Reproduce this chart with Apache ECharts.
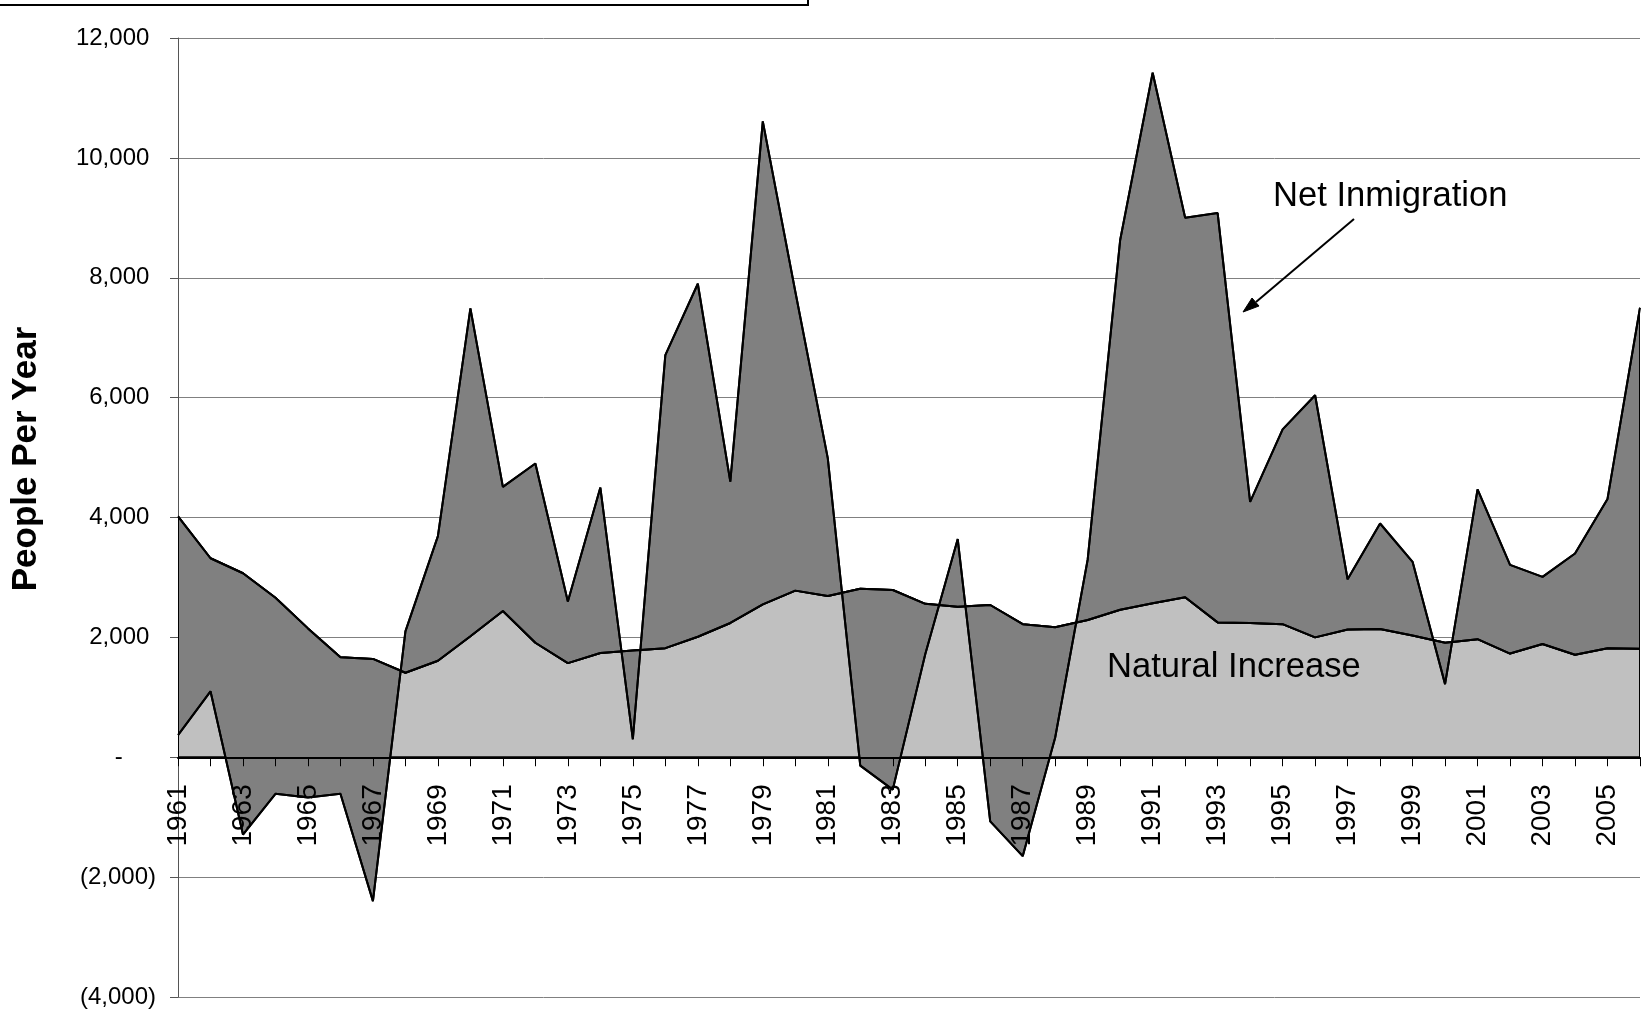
<!DOCTYPE html>
<html>
<head>
<meta charset="utf-8">
<title>People Per Year</title>
<script src="https://cdn.jsdelivr.net/npm/echarts@6.0.0/dist/echarts.min.js"></script>
<style>
  html, body { margin: 0; padding: 0; background: #fff; }
  #chart { width: 1643px; height: 1012px; }
</style>
</head>
<body>
<div id="chart"></div>
<script>
// years on the category axis
var years = [
  '1961', '1962', '1963', '1964', '1965', '1966', '1967', '1968', '1969', '1970',
  '1971', '1972', '1973', '1974', '1975', '1976', '1977', '1978', '1979', '1980',
  '1981', '1982', '1983', '1984', '1985', '1986', '1987', '1988', '1989', '1990',
  '1991', '1992', '1993', '1994', '1995', '1996', '1997', '1998', '1999', '2000',
  '2001', '2002', '2003', '2004', '2005', '2006'
];

// births minus deaths, people per year
var naturalIncrease = [
  4020, 3320, 3070, 2660, 2150, 1670, 1640, 1410, 1610, 2020,
  2440, 1910, 1570, 1740, 1780, 1820, 2010, 2240, 2550, 2780,
  2690, 2810, 2790, 2560, 2510, 2540, 2220, 2170, 2290, 2460,
  2570, 2670, 2250, 2240, 2220, 2000, 2130, 2140, 2030, 1910,
  1970, 1730, 1890, 1710, 1820, 1810
];

// net migration, people per year
var netInmigration = [
  370, 1100, -1290, -610, -670, -610, -2400, 2100, 3690, 7490,
  4510, 4900, 2600, 4500, 300, 6710, 7900, 4600, 10610, 7770,
  4990, -140, -540, 1720, 3640, -1070, -1650, 330, 3300, 8630,
  11420, 9000, 9080, 4260, 5470, 6040, 2970, 3900, 3260, 1220,
  4470, 3210, 3010, 3400, 4310, 7500
];

// y axis ticks
var yMin = -4000;
var yMax = 12000;
var yStep = 2000;

var FONT = "'Liberation Sans', Arial, sans-serif";

// plot box in pixels
var gridTop = 38;
var gridBottom = 15;
var gridHeight = 1012 - gridTop - gridBottom;
// distance of the zero line above the bottom of the plot
var zeroOffset = gridHeight * (0 - yMin) / (yMax - yMin);

// excel accounting style: 12,000 / - / (2,000)
function formatPeople(v) {
  if (v === 0) return '-     ';
  var s = Math.abs(v).toLocaleString('en-US');
  return v < 0 ? '(' + s + ')' : s + ' ';
}

var myChart = echarts.init(document.getElementById('chart'));

// light fill: from zero up to the natural increase line
function renderNaturalFill(params, api) {
  if (params.dataIndex !== 0) return null;
  var pts = [];
  for (var i = 0; i < years.length; i++) {
    pts.push(api.coord([i, naturalIncrease[i]]));
  }
  pts.push(api.coord([years.length - 1, 0]));
  pts.push(api.coord([0, 0]));
  return {
    type: 'polygon',
    shape: { points: pts },
    style: { fill: '#c0c0c0', stroke: '#000', lineWidth: 2, lineJoin: 'bevel' }
  };
}

// dark fill: the band between the two lines
function renderNetFill(params, api) {
  if (params.dataIndex !== 0) return null;
  var upper = [];
  var lower = [];
  for (var i = 0; i < years.length; i++) {
    upper.push(api.coord([i, netInmigration[i]]));
    lower.push(api.coord([i, naturalIncrease[i]]));
  }
  return {
    type: 'polygon',
    shape: { points: upper.concat(lower.reverse()) },
    style: { fill: '#808080', stroke: '#000', lineWidth: 2, lineJoin: 'bevel' }
  };
}

var option = {
  backgroundColor: '#fff',
  animation: false,
  textStyle: { fontFamily: FONT },
  grid: {
    left: 178,
    right: 3,
    top: gridTop,
    bottom: gridBottom,
    containLabel: false,
    outerBoundsMode: 'none'
  },
  xAxis: {
    type: 'category',
    data: years,
    boundaryGap: false,
    position: 'bottom',
    // sit on the zero line, labels hanging below it
    offset: -zeroOffset,
    z: 10,
    axisLine: { onZero: false, lineStyle: { color: '#000', width: 2 } },
    axisTick: { show: true, interval: 0, length: 9, lineStyle: { color: '#000', width: 1 } },
    axisLabel: {
      interval: 1,
      rotate: 90,
      margin: 27,
      color: '#000',
      fontSize: 28,
      fontFamily: FONT
    },
    splitLine: { show: false }
  },
  yAxis: {
    type: 'value',
    min: yMin,
    max: yMax,
    interval: yStep,
    axisLine: { show: true, lineStyle: { color: '#555', width: 1 } },
    axisTick: { show: true, length: 8, lineStyle: { color: '#555' } },
    axisLabel: {
      formatter: formatPeople,
      margin: 22,
      color: '#000',
      fontSize: 24,
      fontFamily: FONT
    },
    splitLine: { show: true, lineStyle: { color: '#808080', width: 1 } }
  },
  series: [
    {
      name: 'Natural Increase fill',
      type: 'custom',
      renderItem: renderNaturalFill,
      data: years.map(function (y, i) { return [i, naturalIncrease[i]]; }),
      encode: { x: 0, y: 1 },
      clip: true,
      silent: true,
      z: 2
    },
    {
      name: 'Net Inmigration fill',
      type: 'custom',
      renderItem: renderNetFill,
      data: years.map(function (y, i) { return [i, netInmigration[i]]; }),
      encode: { x: 0, y: 1 },
      clip: true,
      silent: true,
      z: 3
    },
    {
      name: 'Natural Increase',
      type: 'line',
      data: naturalIncrease,
      symbol: 'none',
      lineStyle: { color: '#000', width: 2 },
      z: 4
    },
    {
      name: 'Net Inmigration',
      type: 'line',
      data: netInmigration,
      symbol: 'none',
      lineStyle: { color: '#000', width: 2 },
      z: 4
    }
  ],
  graphic: [
    // edge of the title box that sits above the chart
    {
      type: 'rect',
      shape: { x: -5, y: -5, width: 813, height: 10 },
      style: { fill: '#fff', stroke: '#000', lineWidth: 2 },
      z: 20
    },
    // value axis title
    {
      type: 'text',
      x: 26,
      y: 459,
      rotation: Math.PI / 2,
      style: { text: 'People Per Year', fill: '#000', font: 'bold 35px ' + FONT, textAlign: 'center', textVerticalAlign: 'middle' },
      z: 20
    },
    {
      type: 'text',
      x: 1273,
      y: 196,
      style: { text: 'Net Inmigration', fill: '#000', font: '34.6px ' + FONT, textAlign: 'left', textVerticalAlign: 'middle' },
      z: 20
    },
    {
      type: 'text',
      x: 1107,
      y: 667,
      style: { text: 'Natural Increase', fill: '#000', font: '34.6px ' + FONT, textAlign: 'left', textVerticalAlign: 'middle' },
      z: 20
    },
    // arrow pointing at the dark band
    {
      type: 'line',
      shape: { x1: 1354, y1: 219, x2: 1256, y2: 302 },
      style: { stroke: '#000', lineWidth: 2 },
      z: 20
    },
    {
      type: 'polygon',
      shape: { points: [[1243, 312], [1259, 306], [1252, 298]] },
      style: { fill: '#000', stroke: '#000', lineWidth: 1 },
      z: 20
    }
  ]
};

myChart.setOption(option);
window.addEventListener('resize', function () { myChart.resize(); });
</script>
</body>
</html>
